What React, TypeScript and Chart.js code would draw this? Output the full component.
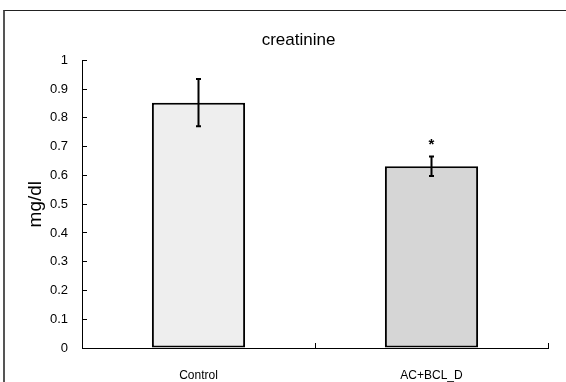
import React, { useEffect, useRef } from "react";
import { Chart, registerables } from "chart.js";

Chart.register(...registerables);

const categories = ["Control", "AC+BCL_D"];
const means = [0.853, 0.632];
const errors = [0.082, 0.034];
const significance = ["", "*"];
const barColors = ["#eeeeee", "#d6d6d6"];
const yTicks = [0, 0.1, 0.2, 0.3, 0.4, 0.5, 0.6, 0.7, 0.8, 0.9, 1];

const errorBarPlugin = {
  id: "errorBars",
  afterDatasetsDraw(chart: any) {
    const ctx = chart.ctx;
    const meta = chart.getDatasetMeta(0);
    const y = chart.scales.y;
    ctx.save();
    ctx.strokeStyle = "#000";
    ctx.fillStyle = "#000";
    meta.data.forEach((bar: any, i: number) => {
      const x = bar.x;
      const top = y.getPixelForValue(means[i] + errors[i]);
      const bot = y.getPixelForValue(means[i] - errors[i]);
      ctx.lineWidth = 2;
      ctx.beginPath();
      ctx.moveTo(x, top);
      ctx.lineTo(x, bot);
      ctx.moveTo(x - 2.5, top);
      ctx.lineTo(x + 2.5, top);
      ctx.moveTo(x - 2.5, bot);
      ctx.lineTo(x + 2.5, bot);
      ctx.stroke();
      if (significance[i]) {
        ctx.font = "bold 15px 'Liberation Sans', Arial, sans-serif";
        ctx.textAlign = "center";
        ctx.textBaseline = "middle";
        ctx.fillText(significance[i], x, top - 12);
      }
    });
    ctx.restore();
  },
};

export default function App() {
  const ref = useRef<HTMLCanvasElement | null>(null);
  useEffect(() => {
    if (!ref.current) return;
    const chart = new Chart(ref.current, {
      type: "bar",
      data: {
        labels: categories,
        datasets: [
          {
            data: means,
            backgroundColor: barColors,
            borderColor: "#000",
            borderWidth: 2,
            borderSkipped: false,
            barPercentage: 0.4,
            categoryPercentage: 1,
          },
        ],
      },
      options: {
        animation: false,
        responsive: false,
        layout: { padding: { left: 49, right: 18, top: 0, bottom: 0 } },
        plugins: {
          legend: { display: false },
          tooltip: { enabled: false },
          title: {
            display: true,
            text: "creatinine",
            color: "#000",
            font: { family: "'Liberation Sans', Arial, sans-serif", size: 17, weight: "normal" },
            padding: { top: 30, bottom: 10 },
          },
        },
        scales: {
          x: {
            offset: true,
            grid: {
              display: true,
              offset: true,
              drawOnChartArea: false,
              drawTicks: true,
              tickLength: -5,
              color: "#000",
            },
            border: { display: true, color: "#000", width: 1 },
            ticks: {
              color: "#000",
              padding: 25,
              font: { family: "'Liberation Sans', Arial, sans-serif", size: 12 },
            },
            afterFit(scale: any) {
              scale.height = 34;
            },
          },
          y: {
            min: 0,
            max: 1,
            afterBuildTicks(scale: any) {
              scale.ticks = yTicks.map((v) => ({ value: v }));
            },
            grid: {
              display: true,
              drawOnChartArea: false,
              drawTicks: true,
              tickLength: -5,
              color: "#000",
            },
            border: { display: true, color: "#000", width: 1 },
            ticks: {
              color: "#000",
              padding: 19,
              font: { family: "'Liberation Sans', Arial, sans-serif", size: 13 },
              callback: (v: any) => String(Math.round(Number(v) * 10) / 10),
            },
            title: {
              display: true,
              text: "mg/dl",
              color: "#000",
              font: { family: "'Liberation Sans', Arial, sans-serif", size: 19 },
              padding: { top: -25, bottom: 0 },
            },
            afterFit(scale: any) {
              scale.width = 33;
            },
          },
        },
      },
      plugins: [errorBarPlugin],
    });
    return () => chart.destroy();
  }, []);

  return (
    <div style={{ position: "fixed", left: 0, top: 0, width: 566, height: 382, background: "#fff", overflow: "hidden" }}>
      <div
        style={{
          position: "absolute",
          left: 3,
          top: 10,
          width: 600,
          height: 400,
          borderTop: "1px solid #222",
          borderLeft: "2px solid #555",
        }}
      />
      <canvas ref={ref} width={566} height={382} style={{ position: "absolute", left: 0, top: 0 }} />
    </div>
  );
}
